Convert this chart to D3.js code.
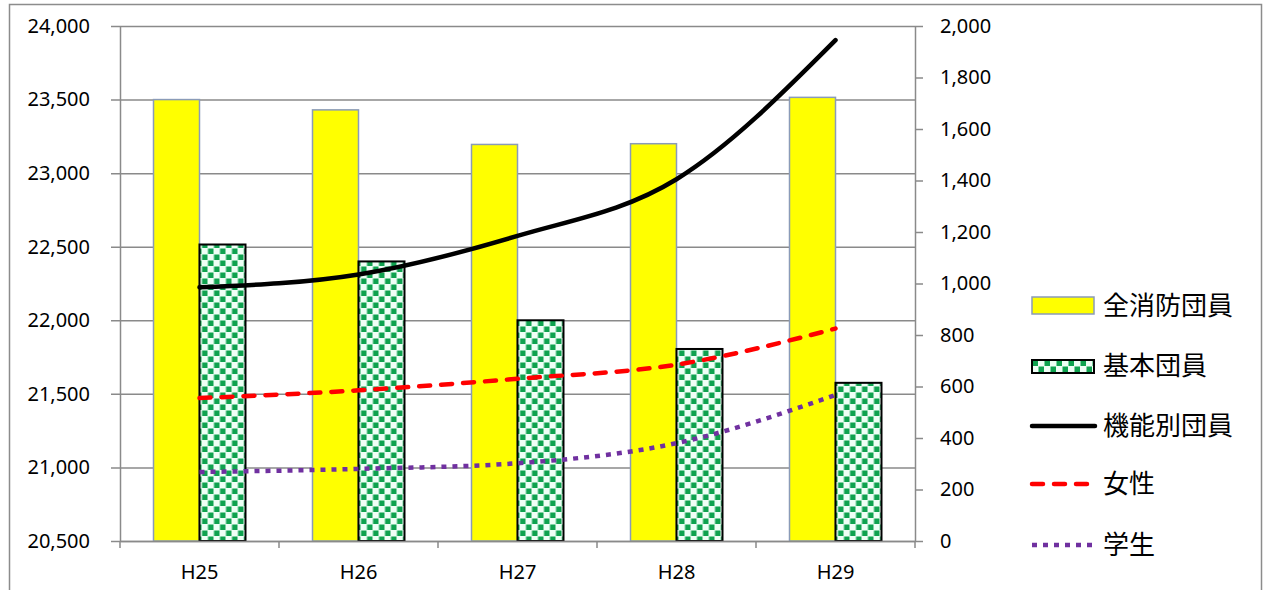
<!DOCTYPE html>
<html>
<head>
<meta charset="utf-8">
<script src="https://cdn.jsdelivr.net/npm/d3@7"></script>
<style>
  body { margin: 0; background: #fff; }
  .axis-label { font-family: "Noto Sans", "Liberation Sans", sans-serif; font-size: 20px; fill: #000; }
  .legend-text { font-family: "Noto Sans CJK JP", sans-serif; font-size: 26px; fill: #000; }
</style>
</head>
<body>
<div id="chart"></div>
<script>
// values
var years = ['H25', 'H26', 'H27', 'H28', 'H29'];
var allMembers = [23500, 23430, 23195, 23200, 23515];      // 全消防団員 (left axis)
var basicMembers = [22515, 22400, 22000, 21805, 21575];    // 基本団員 (left axis)
var functionalMembers = [985, 1035, 1185, 1405, 1945];     // 機能別団員 (right axis)
var womenMembers = [555, 585, 630, 685, 825];              // 女性 (right axis)
var studentMembers = [268, 280, 302, 380, 567];            // 学生 (right axis)

var leftTicks = [20500, 21000, 21500, 22000, 22500, 23000, 23500, 24000];
var rightTicks = [0, 200, 400, 600, 800, 1000, 1200, 1400, 1600, 1800, 2000];

var legendNames = ['全消防団員', '基本団員', '機能別団員', '女性', '学生'];

ComboChartVis = function(_parentElement) {
  this.parentElement = _parentElement;
  this.initVis();
};

ComboChartVis.prototype.initVis = function() {
  var vis = this;

  vis.margin = { top: 26, bottom: 49, left: 120, right: 350 };
  vis.width = 1265 - vis.margin.left - vis.margin.right;
  vis.height = 590 - vis.margin.top - vis.margin.bottom;

  vis.root = d3.select('#' + vis.parentElement).append('svg')
    .attr('width', 1265)
    .attr('height', 590);

  // outer frame
  vis.root.append('rect')
    .attr('x', 9.5).attr('y', 4.5)
    .attr('width', 1252).attr('height', 640)
    .attr('fill', 'none')
    .attr('stroke', '#8c8c8c')
    .attr('stroke-width', 1.5);

  var defs = vis.root.append('defs');
  var pat = defs.append('pattern')
    .attr('id', 'checker')
    .attr('patternUnits', 'userSpaceOnUse')
    .attr('width', 12).attr('height', 12);
  pat.append('rect').attr('width', 12).attr('height', 12).attr('fill', '#effff6');
  pat.append('rect').attr('x', 0.5).attr('y', 0.5).attr('width', 5.5).attr('height', 5.5).attr('fill', '#0fa24f');
  pat.append('rect').attr('x', 6.5).attr('y', 6.5).attr('width', 5.5).attr('height', 5.5).attr('fill', '#0fa24f');

  vis.svg = vis.root.append('g')
    .attr('transform', 'translate(' + vis.margin.left + ',' + vis.margin.top + ')');

  vis.x0 = d3.scaleBand()
    .domain(years)
    .range([0, vis.width])
    .paddingInner(0.4214)
    .paddingOuter(0.2107);

  vis.xEdge = d3.scaleBand().domain(years).range([0, vis.width]);

  vis.x1 = d3.scaleBand()
    .domain(['all', 'basic'])
    .range([0, vis.x0.bandwidth()]);

  vis.yLeft = d3.scaleLinear().domain([20500, 24000]).range([vis.height, 0]);
  vis.yRight = d3.scaleLinear().domain([0, 2000]).range([vis.height, 0]);

  vis.updateVis();
};

ComboChartVis.prototype.updateVis = function() {
  var vis = this;
  var gridColor = '#8a8a8a';

  // gridlines with outward ticks on the left axis
  var leftAxis = d3.axisLeft(vis.yLeft)
    .tickValues(leftTicks)
    .tickSizeInner(-vis.width)
    .tickSizeOuter(0)
    .tickFormat(d3.format(','))
    .tickPadding(30);
  var gl = vis.svg.append('g').call(leftAxis);
  gl.select('.domain').attr('stroke', gridColor).attr('stroke-width', 1.5);
  gl.selectAll('.tick line').attr('stroke', gridColor).attr('stroke-width', 1.5).attr('x1', -9);
  gl.selectAll('.tick text').attr('class', 'axis-label').attr('font-family', null).attr('font-size', null);

  var rightAxis = d3.axisRight(vis.yRight)
    .tickValues(rightTicks)
    .tickSize(8)
    .tickSizeOuter(0)
    .tickFormat(d3.format(','))
    .tickPadding(17);
  var gr = vis.svg.append('g')
    .attr('transform', 'translate(' + vis.width + ',0)')
    .call(rightAxis);
  gr.select('.domain').attr('stroke', gridColor).attr('stroke-width', 1.5);
  gr.selectAll('.tick line').attr('stroke', gridColor).attr('stroke-width', 1.5);
  gr.selectAll('.tick text').attr('class', 'axis-label').attr('font-family', null).attr('font-size', null);

  // bars
  var groups = vis.svg.selectAll('.year')
    .data(years)
    .enter()
    .append('g')
    .attr('class', 'year')
    .attr('transform', function(d) { return 'translate(' + vis.x0(d) + ',0)'; });

  groups.append('rect')
    .attr('x', vis.x1('all'))
    .attr('y', function(d, i) { return vis.yLeft(allMembers[i]); })
    .attr('width', vis.x1.bandwidth())
    .attr('height', function(d, i) { return vis.height - vis.yLeft(allMembers[i]); })
    .attr('fill', '#ffff00')
    .attr('stroke', '#8a9bb8')
    .attr('stroke-width', 1.5);

  groups.append('rect')
    .attr('x', vis.x1('basic'))
    .attr('y', function(d, i) { return vis.yLeft(basicMembers[i]); })
    .attr('width', vis.x1.bandwidth())
    .attr('height', function(d, i) { return vis.height - vis.yLeft(basicMembers[i]); })
    .attr('fill', 'url(#checker)')
    .attr('stroke', '#000')
    .attr('stroke-width', 2);

  // bottom axis
  var bottomAxis = d3.axisBottom(vis.x0).tickSize(0).tickPadding(24);
  var gb = vis.svg.append('g')
    .attr('transform', 'translate(0,' + vis.height + ')')
    .call(bottomAxis);
  gb.select('.domain').attr('stroke', gridColor).attr('stroke-width', 1.5);
  gb.selectAll('.tick text').attr('class', 'axis-label').attr('font-family', null).attr('font-size', null);
  var edges = years.map(function(d) { return vis.xEdge(d); }).concat([vis.width]);
  gb.selectAll('.edge')
    .data(edges)
    .enter()
    .append('line')
    .attr('x1', function(d) { return d; })
    .attr('x2', function(d) { return d; })
    .attr('y1', 0).attr('y2', 7)
    .attr('stroke', gridColor)
    .attr('stroke-width', 1.5);

  // lines
  var cx = function(i) { return vis.x0(years[i]) + vis.x0.bandwidth() / 2; };
  var line = d3.line()
    .x(function(d, i) { return cx(i); })
    .y(function(d) { return vis.yRight(d); })
    .curve(d3.curveMonotoneX);

  var lineStyles = [
    { data: functionalMembers, color: '#000', dash: null, cap: 'round', w: 4.5 },
    { data: womenMembers, color: '#ff0000', dash: '11,11', cap: 'round', w: 4.5 },
    { data: studentMembers, color: '#7030a0', dash: '5,6', cap: 'butt', w: 4.5 }
  ];

  lineStyles.forEach(function(s) {
    vis.svg.append('path')
      .datum(s.data)
      .attr('d', line)
      .attr('fill', 'none')
      .attr('stroke', s.color)
      .attr('stroke-width', s.w)
      .attr('stroke-linecap', s.cap)
      .attr('stroke-dasharray', s.dash);
  });

  // legend
  var legend = vis.root.append('g').attr('transform', 'translate(1032,0)');
  var rowY = [306, 366, 426, 484, 545];

  legend.append('rect')
    .attr('x', 0).attr('y', rowY[0] - 9)
    .attr('width', 62).attr('height', 17)
    .attr('fill', '#ffff00').attr('stroke', '#8a9bb8').attr('stroke-width', 1.5);
  legend.append('rect')
    .attr('x', 0).attr('y', rowY[1] - 6)
    .attr('width', 62).attr('height', 13)
    .attr('fill', 'url(#checker)').attr('stroke', '#000').attr('stroke-width', 2);

  lineStyles.forEach(function(s, i) {
    legend.append('line')
      .attr('x1', 0).attr('x2', s.cap === 'round' ? 63 : 60)
      .attr('y1', rowY[i + 2]).attr('y2', rowY[i + 2])
      .attr('stroke', s.color)
      .attr('stroke-width', s.w)
      .attr('stroke-linecap', s.cap)
      .attr('stroke-dasharray', s.dash);
  });

  legend.selectAll('.legend-text')
    .data(legendNames)
    .enter()
    .append('text')
    .attr('class', 'legend-text')
    .attr('x', 71)
    .attr('y', function(d, i) { return rowY[i]; })
    .attr('dy', '0.36em')
    .text(function(d) { return d; });
};

new ComboChartVis('chart');
</script>
</body>
</html>
